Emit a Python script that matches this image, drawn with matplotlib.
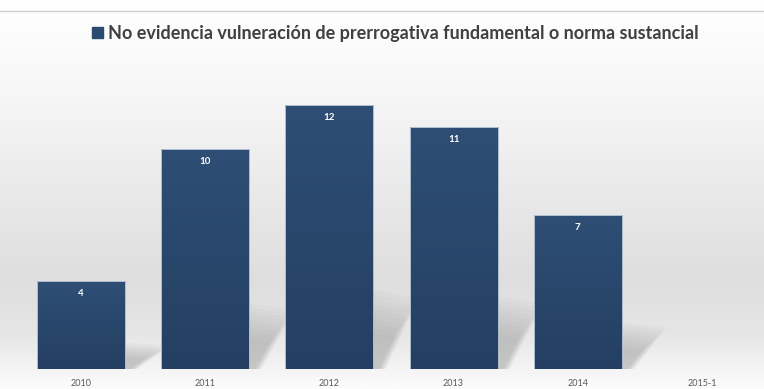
import numpy as np
import matplotlib.pyplot as plt
from matplotlib.colors import LinearSegmentedColormap
from matplotlib.patches import Polygon

categories = ["2010", "2011", "2012", "2013", "2014", "2015-1"]
values = [4, 10, 12, 11, 7, 0]
series_name = "No evidencia vulneración de prerrogativa fundamental o norma sustancial"

plt.rcParams['font.family'] = ['Lato', 'DejaVu Sans']

fig = plt.figure(figsize=(7.64, 3.89), dpi=100)

# background gradient (white top, grey floor, white at bottom)
bg = fig.add_axes([0, 0, 1, 1], zorder=-10)
bg_cmap = LinearSegmentedColormap.from_list(
    "bg", [(0.0, "#ffffff"), (0.25, "#f6f6f6"), (0.72, "#dedede"),
           (0.86, "#e6e6e6"), (1.0, "#fcfcfc")])
bg.imshow(np.linspace(0, 1, 256).reshape(-1, 1), aspect="auto", cmap=bg_cmap,
          extent=[0, 1, 0, 1], origin="upper")
bg.axhline(0.972, color="#d0d0d0", lw=1)
bg.set_xlim(0, 1)
bg.set_ylim(0, 1)
bg.axis("off")

ax = fig.add_axes([19 / 764, 20 / 389, 745 / 764, 308 / 389])
ax.patch.set_alpha(0)
x = np.arange(len(categories))
width = 0.71

bar_cmap = LinearSegmentedColormap.from_list("bar", ["#2e4e75", "#243f62"])
bars = ax.bar(x, values, width=width, color="none", edgecolor="#c9d3de",
              linewidth=0.6, zorder=3)
for b, v in zip(bars, values):
    if v == 0:
        continue
    x0, w, h = b.get_x(), b.get_width(), b.get_height()
    xr = x0 + w
    # soft floor shadow to the right of the bar, many faint layers for blur
    for k in np.linspace(1.0, 0.45, 10):
        sh = Polygon([(xr, 0), (xr, 0.3 * h * k), (xr + 0.36 * k, 0.27 * h * k),
                      (xr + 0.1 * k, 0)], closed=True, color="#808080",
                     alpha=0.045, lw=0, zorder=1)
        ax.add_patch(sh)
    im = ax.imshow(np.linspace(0, 1, 100).reshape(-1, 1), aspect="auto",
                   cmap=bar_cmap, extent=[x0, xr, 0, h], origin="upper",
                   zorder=2)
    im.set_clip_path(b)
    ax.text(x0 + w / 2, h - 0.55, str(v), ha="center", va="center",
            color="white", fontsize=7, fontweight="bold", zorder=4)

ax.set_xlim(-0.5, len(categories) - 0.5)
ax.set_ylim(0, 14)
ax.set_xticks(x)
ax.set_xticklabels(categories, fontsize=6.5, color="#595959")
ax.tick_params(axis="x", length=0, pad=7)
ax.set_yticks([])
for s in ax.spines.values():
    s.set_visible(False)

# legend
fig.patches.append(plt.Rectangle((92 / 764, 1 - 38 / 389), 11 / 764, 11 / 389,
                                 transform=fig.transFigure, color="#2a4a70"))
fig.text(108 / 764, 1 - 33 / 389, series_name, fontsize=13, fontweight="bold",
         color="#404040", va="center", ha="left")

fig.savefig("out.png", dpi=100)
